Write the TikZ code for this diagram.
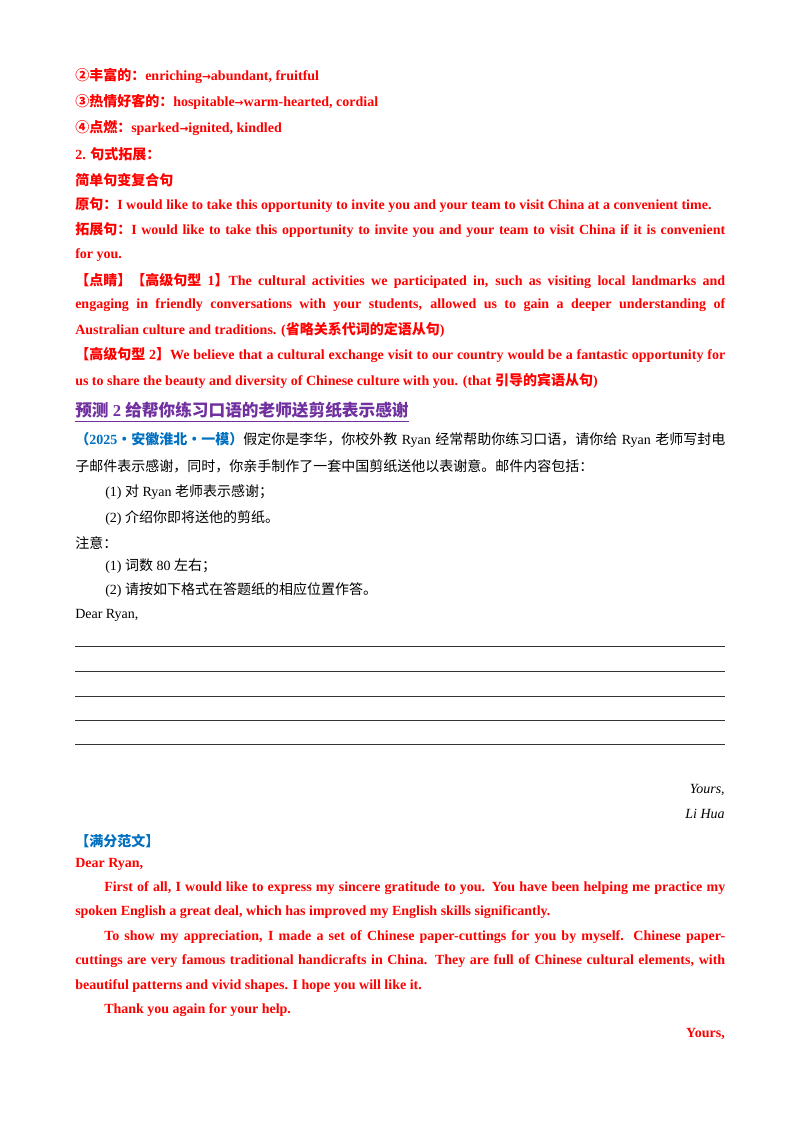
\documentclass[tikz,border=0pt]{standalone}
\usepackage{fontspec}
\setmainfont{Liberation Serif}
\newfontfamily\cjk{Noto Sans CJK SC}
\newfontfamily\sym{DejaVu Sans}
\newcommand\C[1]{{\cjk #1}}
\newcommand\AR{{\sym\footnotesize →}}
\newcommand\JL[1]{\makebox[487.5pt][s]{#1}}
\newcommand\JI[1]{\makebox[465.75pt][s]{#1}}
\definecolor{tred}{HTML}{FF0000}
\definecolor{tblue}{HTML}{0070C0}
\definecolor{tpurple}{HTML}{7030A0}
\begin{document}
\begin{tikzpicture}[x=0.75pt,y=-0.75pt,
  every node/.style={inner sep=0pt,anchor=west,font=\fontsize{10.5pt}{12pt}\selectfont},
  rd/.style={text=tred,font=\fontsize{10.5pt}{12pt}\selectfont\bfseries},
  rule/.style={draw=black!80,line width=0.6pt}]
\useasboundingbox (0,0) rectangle (800,1134);
\fill[white] (0,0) rectangle (800,1134);
\node[rd] (l1) at (75,76) {\C{②丰富的：}enriching\AR abundant, fruitful};
\node[rd] (l2) at (75,102) {\C{③热情好客的：}hospitable\AR warm-hearted, cordial};
\node[rd] (l3) at (75,128) {\C{④点燃：}sparked\AR ignited, kindled};
\node[rd] (l4) at (75,154) {2. \C{句式拓展：}};
\node[rd] (l5) at (75,180) {\C{简单句变复合句}};
\node[rd] (l6) at (75,205) {\C{原句：}I would like to take this opportunity to invite you and your team to visit China at a convenient time.};
\node[rd] (l7) at (75,230) {\JL{\C{拓展句：}I would like to take this opportunity to invite you and your team to visit China if it is convenient}};
\node[rd] (l8) at (75,255) {for you.};
\node[rd] (l9) at (75,281) {\JL{\C{【点睛】【高级句型} 1\C{】}The cultural activities we participated in, such as visiting local landmarks and}};
\node[rd] (l10) at (75,305) {\JL{engaging in friendly conversations with your students, allowed us to gain a deeper understanding of}};
\node[rd] (l11) at (75,330) {Australian culture and traditions. (\C{省略关系代词的定语从句})};
\node[rd] (l12) at (75,355) {\JL{\C{【高级句型} 2\C{】}We believe that a cultural exchange visit to our country would be a fantastic opportunity for}};
\node[rd] (l13) at (75,381) {us to share the beauty and diversity of Chinese culture with you. (that \C{引导的宾语从句})};
\node[text=tpurple,font=\fontsize{12.5pt}{14pt}\selectfont\bfseries] (h) at (75,410) {\C{预测} 2 \C{给帮你练习口语的老师送剪纸表示感谢}};
\draw[tpurple,line width=0.8pt] ([yshift=-2pt]h.south west) -- ([yshift=-2pt]h.south east);
\node (p1) at (75,440) {\JL{\textcolor{tblue}{\bfseries\C{（}2025\C{·安徽淮北·一模）}}\C{假定你是李华，你校外教} Ryan \C{经常帮助你练习口语，请你给} Ryan \C{老师写封电}}};
\node (p2) at (75,466) {\C{子邮件表示感谢，同时，你亲手制作了一套中国剪纸送他以表谢意。邮件内容包括：}};
\node (p3) at (105,492) {(1) \C{对} Ryan \C{老师表示感谢；}};
\node (p4) at (105,518) {(2) \C{介绍你即将送他的剪纸。}};
\node (p5) at (75,543) {\C{注意：}};
\node (p6) at (105,566) {(1) \C{词数} 80 \C{左右；}};
\node (p7) at (105,590) {(2) \C{请按如下格式在答题纸的相应位置作答。}};
\node (p8) at (75,615) {Dear Ryan,};
\foreach \y in {646,671,696,720,744}{\draw[rule] (75,\y) -- (725,\y);}
\node[anchor=east,font=\fontsize{10.5pt}{12pt}\selectfont\itshape] (y1) at (725,790) {Yours,};
\node[anchor=east,font=\fontsize{10.5pt}{12pt}\selectfont\itshape] (y2) at (725,814) {Li Hua};
\node[text=tblue,font=\fontsize{10.5pt}{12pt}\selectfont\bfseries] (m) at (75,841) {\C{【满分范文】}};
\node[rd] (e1) at (75,864) {Dear Ryan,};
\node[rd] (e2) at (104,888) {\JI{First of all, I would like to express my sincere gratitude to you. You have been helping me practice my}};
\node[rd] (e3) at (75,912) {spoken English a great deal, which has improved my English skills significantly.};
\node[rd] (e4) at (104,937) {\JI{To show my appreciation, I made a set of Chinese paper-cuttings for you by myself. Chinese paper-}};
\node[rd] (e5) at (75,961) {\JL{cuttings are very famous traditional handicrafts in China. They are full of Chinese cultural elements, with}};
\node[rd] (e6) at (75,986) {beautiful patterns and vivid shapes. I hope you will like it.};
\node[rd] (e7) at (104,1010) {Thank you again for your help.};
\node[rd,anchor=east] (e8) at (725,1034) {Yours,};
\end{tikzpicture}
\end{document}
